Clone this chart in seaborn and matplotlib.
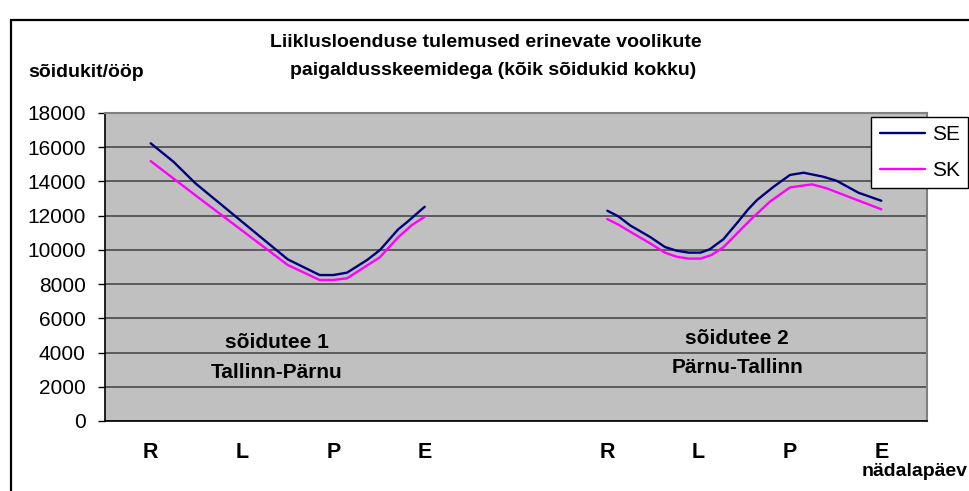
import matplotlib
matplotlib.use("Agg")
import matplotlib.pyplot as plt
import pandas as pd
import seaborn as sns
from matplotlib.patches import Rectangle

sns.set_theme(style="white")
plt.rcParams["font.family"] = ["Liberation Sans", "DejaVu Sans"]
plt.rcParams["text.color"] = "black"
plt.rcParams["xtick.color"] = "black"
plt.rcParams["ytick.color"] = "black"
plt.rcParams["axes.labelcolor"] = "black"

# category axis (one slot per weekday, empty slot between the two roads)
categories = ["R", "L", "P", "E", "", "R", "L", "P", "E"]

# sõidutee 1 (Tallinn-Pärnu), x in category units
se1_x = [0.0, 0.25, 0.49, 1.50, 1.85, 2.0, 2.15, 2.37, 2.51, 2.71, 2.80, 3.0]
se1_y = [16230, 15150, 13890, 9450, 8530, 8530, 8670, 9410, 9990, 11200, 11590, 12520]
sk1_x = [0.0, 0.51, 1.50, 1.85, 2.0, 2.15, 2.51, 2.71, 2.86, 3.0]
sk1_y = [15190, 13110, 9120, 8240, 8240, 8340, 9570, 10740, 11450, 11940]

# sõidutee 2 (Pärnu-Tallinn)
se2_x = [5.0, 5.12, 5.25, 5.47, 5.63, 5.76, 5.89, 6.02, 6.12, 6.27, 6.42, 6.54,
         6.64, 6.82, 7.00, 7.15, 7.36, 7.51, 7.75, 8.0]
se2_y = [12290, 11960, 11430, 10750, 10170, 9950, 9840, 9840, 10030, 10620, 11570, 12360,
         12920, 13690, 14380, 14510, 14280, 14040, 13340, 12870]
sk2_x = [5.0, 5.12, 5.27, 5.47, 5.63, 5.76, 5.89, 6.02, 6.14, 6.27, 6.56, 6.78,
         7.0, 7.24, 7.40, 8.0]
sk2_y = [11800, 11480, 11000, 10380, 9840, 9600, 9490, 9490, 9700, 10150, 11720, 12820,
         13650, 13830, 13600, 12370]

rows = []
for name, seg, xs, ys in [("SE", 1, se1_x, se1_y), ("SK", 1, sk1_x, sk1_y),
                          ("SE", 2, se2_x, se2_y), ("SK", 2, sk2_x, sk2_y)]:
    for x, y in zip(xs, ys):
        rows.append({"x": x, "value": y, "series": name, "segment": seg})
df = pd.DataFrame(rows)

W, H = 969, 491
fig = plt.figure(figsize=(W / 100, H / 100), dpi=100)
ax = fig.add_axes([105 / W, 1 - 421 / H, (927 - 105) / W, (421 - 113) / H])
ax.set_facecolor("#C0C0C0")

sns.lineplot(data=df, x="x", y="value", hue="series", units="segment",
             estimator=None, sort=False, palette={"SE": "#000080", "SK": "#FF00FF"},
             linewidth=1.7, ax=ax, legend=False)

ax.set_xlim(-0.5, len(categories) - 0.5)
ax.set_ylim(0, 18000)
ax.set_yticks(range(0, 18001, 2000))
ax.yaxis.grid(True, color="#404040", linewidth=1.1)
ax.set_axisbelow(True)

# boundaries get tick marks, category names sit between them
ax.set_xticks([i - 0.5 for i in range(len(categories) + 1)])
ax.set_xticklabels([])
ax.set_xticks(range(len(categories)), minor=True)
ax.set_xticklabels(categories, minor=True, fontsize=15.5, fontweight="bold")
ax.tick_params(axis="x", which="major", direction="out", length=5, width=1, color="black")
ax.tick_params(axis="x", which="minor", length=0, pad=15)
ax.tick_params(axis="y", direction="out", length=5, width=1, color="black",
               labelsize=15, pad=9, left=True)
ax.set_xlabel("")
ax.set_ylabel("")

for side in ["left", "bottom"]:
    ax.spines[side].set_color("black")
    ax.spines[side].set_linewidth(1.2)
for side in ["top", "right"]:
    ax.spines[side].set_color("#808080")
    ax.spines[side].set_linewidth(1.5)

ax.text(1.38, 4600, "sõidutee 1", ha="center", va="center", fontsize=15, fontweight="bold")
ax.text(1.38, 2850, "Tallinn-Pärnu", ha="center", va="center", fontsize=15, fontweight="bold")
ax.text(6.42, 4850, "sõidutee 2", ha="center", va="center", fontsize=15, fontweight="bold")
ax.text(6.42, 3100, "Pärnu-Tallinn", ha="center", va="center", fontsize=15, fontweight="bold")

fig.text(486 / W, 1 - 47 / H, "Liiklusloenduse tulemused erinevate voolikute",
         ha="center", va="baseline", fontsize=14, fontweight="bold")
fig.text(493 / W, 1 - 75 / H, "paigaldusskeemidega (kõik sõidukid kokku)",
         ha="center", va="baseline", fontsize=14, fontweight="bold")
fig.text(28 / W, 1 - 77 / H, "sõidukit/ööp", ha="left", va="baseline",
         fontsize=14, fontweight="bold")
fig.text(968 / W, 1 - 476 / H, "nädalapäev", ha="right", va="baseline",
         fontsize=14, fontweight="bold")

handles = [plt.Line2D([], [], color="#000080", lw=1.7),
           plt.Line2D([], [], color="#FF00FF", lw=1.7)]
leg = fig.legend(handles, ["SE", "SK"], loc="upper right",
                 bbox_to_anchor=(968 / W, 1 - 117 / H), borderaxespad=0,
                 fontsize=15, frameon=True, fancybox=False, framealpha=1,
                 edgecolor="black", handlelength=2.2, handletextpad=0.3,
                 labelspacing=0.8, borderpad=0.4)
leg.get_frame().set_linewidth(1.0)

fig.patches.append(Rectangle((11 / W, -0.2), 1.2, 1.2 - 20 / H, transform=fig.transFigure,
                             fill=False, edgecolor="black", linewidth=1.6))

fig.savefig("out.png", dpi=100, facecolor="white")
